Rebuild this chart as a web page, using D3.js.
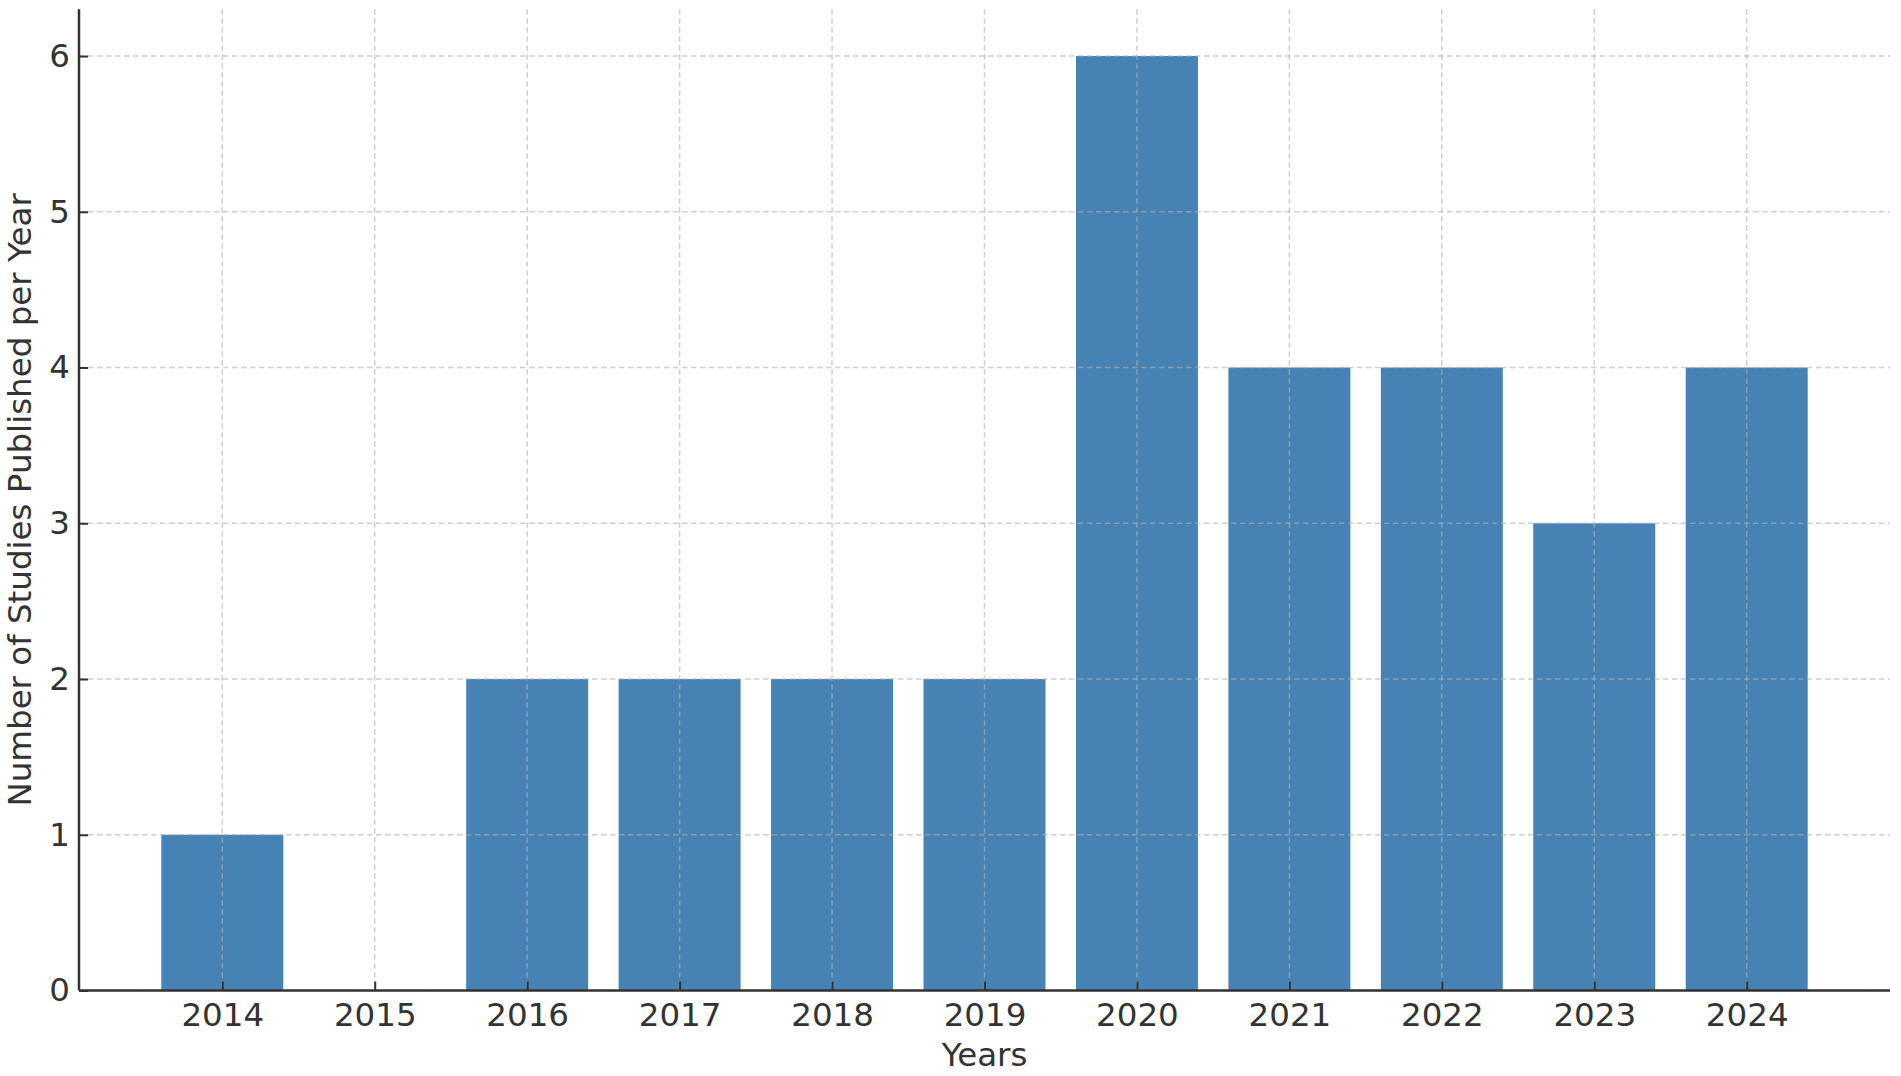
<!DOCTYPE html>
<html><head><meta charset="utf-8">
<script src="https://cdn.jsdelivr.net/npm/d3@7"></script>
<style>body{margin:0;background:#fff}svg{display:block}text{font-family:"DejaVu Sans",sans-serif;fill:#333}</style>
</head><body>
<script>
const years = ["2014","2015","2016","2017","2018","2019","2020","2021","2022","2023","2024"];
const studies = [1,0,2,2,2,2,6,4,4,3,4];
const yTicks = [0,1,2,3,4,5,6];

const W=1901,H=1076;
const pL=79,pR=1890,pT=9.3,pB=990.5;
const FS=32.5;
const svg=d3.select("body").append("svg").attr("width",W).attr("height",H);

const x=d3.scaleLinear().domain([-0.94,10.94]).range([pL,pR]);
const y=d3.scaleLinear().domain([0,6.3]).range([pB,pT]);
const bw=x(0.8)-x(0);

svg.append("g").selectAll("rect").data(studies).join("rect")
  .attr("x",(d,i)=>x(i-0.4)).attr("width",bw)
  .attr("y",d=>y(d)).attr("height",d=>y(0)-y(d))
  .attr("fill","#4682b4");

const grid=svg.append("g").attr("stroke","#b0b0b0").attr("stroke-opacity",0.6)
  .attr("stroke-width",1.5).attr("stroke-dasharray","5.5,3.5");
grid.selectAll("line.v").data(years).join("line").attr("class","v")
  .attr("x1",(d,i)=>x(i)).attr("x2",(d,i)=>x(i)).attr("y1",pT).attr("y2",pB);
grid.selectAll("line.h").data(yTicks).join("line").attr("class","h")
  .attr("x1",pL).attr("x2",pR).attr("y1",d=>y(d)).attr("y2",d=>y(d));

const xAxis=d3.axisBottom(x).tickValues(d3.range(years.length)).tickFormat(i=>years[i])
  .tickSizeInner(-9).tickSizeOuter(0).tickPadding(12);
const gx=svg.append("g").attr("transform",`translate(0,${pB})`).call(xAxis);
const yAxis=d3.axisLeft(y).tickValues(yTicks).tickFormat(d3.format("d"))
  .tickSizeInner(-9).tickSizeOuter(0).tickPadding(9);
const gy=svg.append("g").attr("transform",`translate(${pL},0)`).call(yAxis);
[gx,gy].forEach(g=>{
  g.select(".domain").attr("stroke","#333").attr("stroke-width",2.5);
  g.selectAll(".tick line").attr("stroke","#333").attr("stroke-width",2);
  g.selectAll(".tick text").attr("font-size",FS).attr("fill","#333");
});
gy.select(".domain").attr("d",`M0,${pT}V${pB}`);
gx.select(".domain").attr("d",`M${pL},0H${pR}`);

svg.append("text").attr("x",(pL+pR)/2).attr("y",1066).attr("text-anchor","middle")
  .attr("font-size",FS).text("Years");
svg.append("text").attr("transform",`translate(31,${(pT+pB)/2}) rotate(-90)`)
  .attr("text-anchor","middle").attr("font-size",FS).text("Number of Studies Published per Year");
</script>
</body></html>
